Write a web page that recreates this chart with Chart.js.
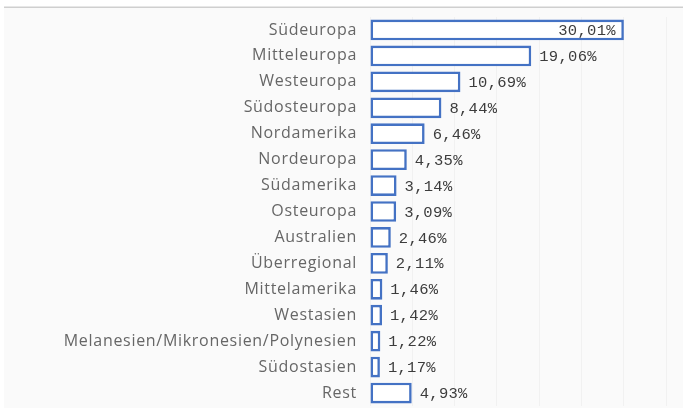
<!DOCTYPE html>
<html>
<head>
<meta charset="utf-8">
<script src="https://cdn.jsdelivr.net/npm/chart.js@4/dist/chart.umd.min.js"></script>
<style>
  html, body { margin: 0; padding: 0; background: #ffffff; }
  #wrap { width: 683px; height: 408px; position: relative; }
</style>
</head>
<body>
<div id="wrap"><canvas id="c" width="683" height="408"></canvas></div>
<script>
const categories = [
  "Südeuropa", "Mitteleuropa", "Westeuropa", "Südosteuropa", "Nordamerika",
  "Nordeuropa", "Südamerika", "Osteuropa", "Australien", "Überregional",
  "Mittelamerika", "Westasien", "Melanesien/Mikronesien/Polynesien", "Südostasien", "Rest"
];
const shares = [30.01, 19.06, 10.69, 8.44, 6.46, 4.35, 3.14, 3.09, 2.46, 2.11, 1.46, 1.42, 1.22, 1.17, 4.93];
const xTicks = [0, 5, 10, 15, 20, 25, 30, 35];

const fmt = v => v.toFixed(2).replace('.', ',') + '%';

const bgPlugin = {
  id: 'bg',
  beforeDraw(chart) {
    const ctx = chart.ctx;
    ctx.save();
    ctx.fillStyle = '#fafafa';
    ctx.fillRect(4, 8, chart.width - 4, chart.height - 8);
    ctx.strokeStyle = '#cfcfcf';
    ctx.lineWidth = 1.5;
    ctx.beginPath();
    ctx.moveTo(4, 7.25);
    ctx.lineTo(chart.width, 7.25);
    ctx.stroke();
    ctx.restore();
    ctx.letterSpacing = '0.7px';
  }
};

const valueLabels = {
  id: 'valueLabels',
  afterDatasetsDraw(chart) {
    const ctx = chart.ctx;
    const meta = chart.getDatasetMeta(0);
    const area = chart.chartArea;
    ctx.save();
    ctx.letterSpacing = '0.3px';
    ctx.font = '15.5px "Liberation Mono", "DejaVu Sans Mono", monospace';
    ctx.fillStyle = '#3c3c3c';
    ctx.textBaseline = 'middle';
    meta.data.forEach((bar, i) => {
      const txt = fmt(shares[i]);
      if (bar.x - bar.base > (area.right - area.left) * 0.6) {
        ctx.textAlign = 'right';
        ctx.fillText(txt, bar.x - 8, bar.y + 1);
      } else {
        ctx.textAlign = 'left';
        ctx.fillText(txt, bar.x + 8, bar.y + 1);
      }
    });
    ctx.restore();
  }
};

new Chart(document.getElementById('c'), {
  type: 'bar',
  data: {
    labels: categories,
    datasets: [{
      data: shares,
      backgroundColor: '#ffffff',
      borderColor: '#4472c4',
      borderWidth: 2.6,
      borderSkipped: false,
      barPercentage: 0.8,
      categoryPercentage: 1.0
    }]
  },
  options: {
    indexAxis: 'y',
    responsive: false,
    animation: false,
    devicePixelRatio: 1,
    layout: { padding: { top: 17, bottom: 2, left: 0, right: 0 } },
    plugins: { legend: { display: false }, tooltip: { enabled: false }, title: { display: false } },
    scales: {
      x: {
        min: 0, max: 37,
        afterBuildTicks(scale) { scale.ticks = xTicks.map(v => ({ value: v })); },
        afterFit(scale) { scale.height = 0; scale.paddingLeft = 0; scale.paddingRight = 0; },
        ticks: { display: false },
        grid: { color: 'rgba(0,0,0,0.035)', drawTicks: false },
        border: { display: false }
      },
      y: {
        afterFit(scale) { scale.width = 370; scale.paddingTop = 0; scale.paddingBottom = 0; },
        ticks: {
          color: '#666666',
          padding: 13,
          font: { family: '"Open Sans", "Noto Sans", sans-serif', size: 16 }
        },
        grid: { display: false, drawTicks: false },
        border: { display: false }
      }
    }
  },
  plugins: [bgPlugin, valueLabels]
});
</script>
</body>
</html>
